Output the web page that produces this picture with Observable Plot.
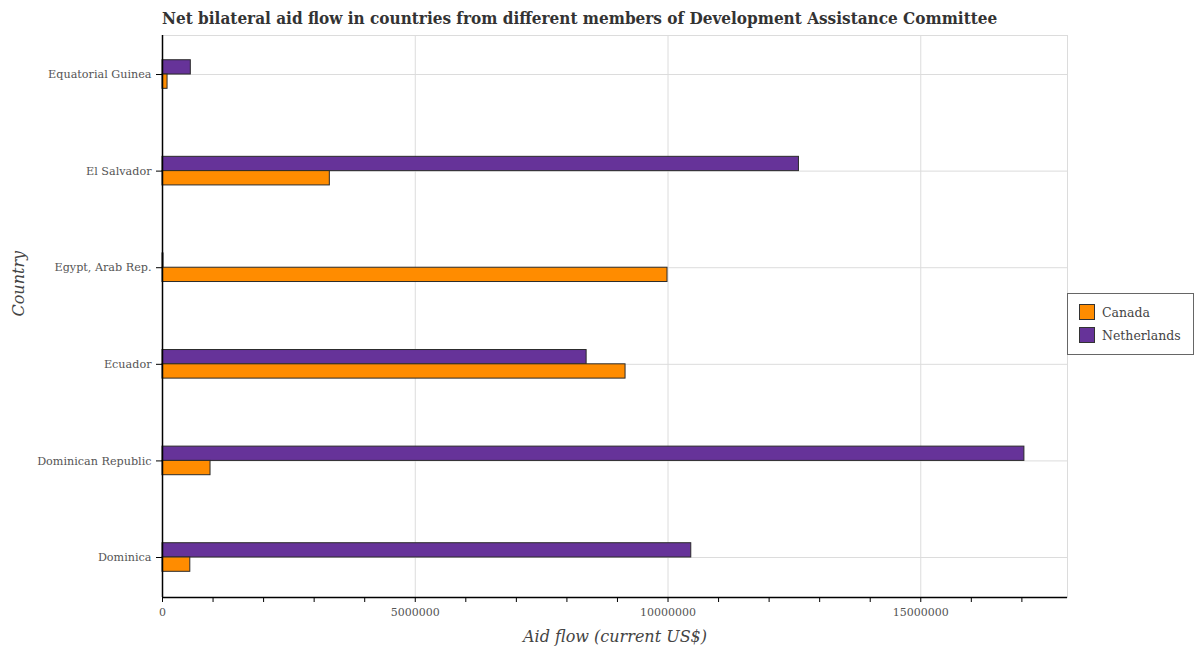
<!DOCTYPE html>
<html>
<head>
<meta charset="utf-8">
<script src="https://cdn.jsdelivr.net/npm/d3@7"></script>
<script src="https://cdn.jsdelivr.net/npm/@observablehq/plot@0.6"></script>
<style>
  html, body { margin: 0; padding: 0; background: #fff; }
  #wrap { position: relative; width: 1194px; height: 650px; overflow: hidden; font-family: "DejaVu Serif", serif; }
  #title { position: absolute; left: 162px; top: 8px; font-family: "DejaVu Serif Condensed", "DejaVu Serif", serif; font-stretch: condensed; font-weight: bold; font-size: 17px; color: #333; white-space: nowrap; }
  #legend { position: absolute; left: 1067px; top: 293px; width: 127px; height: 62px; border: 1.5px solid #666; box-sizing: border-box; background: #fff; }
  .item { position: absolute; left: 11px; display: flex; align-items: center; font-size: 12.5px; color: #444; }
  .sw { width: 16px; height: 16px; border: 1px solid #333; box-sizing: border-box; margin-right: 7px; }
</style>
</head>
<body>
<div id="wrap">
  <div id="chart"></div>
  <div id="title">Net bilateral aid flow in countries from different members of Development Assistance Committee</div>
  <div id="legend"></div>
</div>
<script>
const countries = ["Dominica", "Dominican Republic", "Ecuador", "Egypt, Arab Rep.", "El Salvador", "Equatorial Guinea"];
const canada = [550000, 950000, 9160000, 9990000, 3310000, 100000];
const netherlands = [10460000, 17050000, 8390000, 20000, 12590000, 560000];
const seriesNames = ["Canada", "Netherlands"];
const seriesColors = ["#ff8c00", "#663399"];

const rows = countries.flatMap((c, i) => [
  {country: c, i, series: "Netherlands", value: netherlands[i]},
  {country: c, i, series: "Canada", value: canada[i]}
]);
const xmax = d3.max(netherlands.concat(canada)) * 1.05;
const half = 0.148;
const font = "DejaVu Serif";

const chart = Plot.plot({
  width: 1194,
  height: 650,
  marginTop: 35,
  marginBottom: 53,
  marginLeft: 162,
  marginRight: 127,
  style: {fontFamily: font, background: "#fff"},
  x: {domain: [0, xmax]},
  y: {domain: [-0.414, 5.404]},
  color: {domain: seriesNames, range: seriesColors},
  marks: [
    Plot.gridX(d3.range(0, xmax, 5e6), {stroke: "#dcdcdc", strokeOpacity: 1}),
    Plot.gridY(d3.range(countries.length), {stroke: "#dcdcdc", strokeOpacity: 1}),
    Plot.frame({stroke: "#dcdcdc"}),
    Plot.rect(rows, {
      x1: 0,
      x2: "value",
      y1: d => d.series === "Netherlands" ? d.i : d.i - half,
      y2: d => d.series === "Netherlands" ? d.i + half : d.i,
      fill: "series",
      stroke: "#2b2b2b",
      strokeWidth: 1
    }),
    Plot.axisX({
      ticks: d3.range(0, xmax, 1e6),
      tickFormat: d => (Math.round(d) % 5000000 === 0 ? d3.format("d")(d) : ""),
      tickSize: 5,
      tickPadding: 6,
      fontSize: 11,
      fill: "#555",
      stroke: "#000",
      label: null
    }),
    Plot.axisY({
      ticks: d3.range(countries.length),
      tickFormat: i => countries[i],
      tickSize: 6,
      tickPadding: 5,
      fontSize: 11.2,
      fill: "#555",
      stroke: "#000",
      label: null
    }),
    Plot.ruleX([0], {stroke: "#000", strokeWidth: 1.5}),
    Plot.ruleY([-0.414], {stroke: "#000", strokeWidth: 1.5}),
    Plot.text(["Aid flow (current US$)"], {frameAnchor: "bottom", dy: 44, fontSize: 16, fontStyle: "italic", fill: "#444"}),
    Plot.text(["Country"], {frameAnchor: "left", dx: -144, rotate: -90, fontSize: 16, fontStyle: "italic", fill: "#444"})
  ]
});
document.getElementById("chart").appendChild(chart);

const legend = document.getElementById("legend");
seriesNames.forEach((s, k) => {
  const it = document.createElement("div");
  it.className = "item";
  it.style.top = (10 + k * 23) + "px";
  const sw = document.createElement("div");
  sw.className = "sw";
  sw.style.background = seriesColors[k];
  it.appendChild(sw);
  it.appendChild(document.createTextNode(s));
  legend.appendChild(it);
});
</script>
</body>
</html>
